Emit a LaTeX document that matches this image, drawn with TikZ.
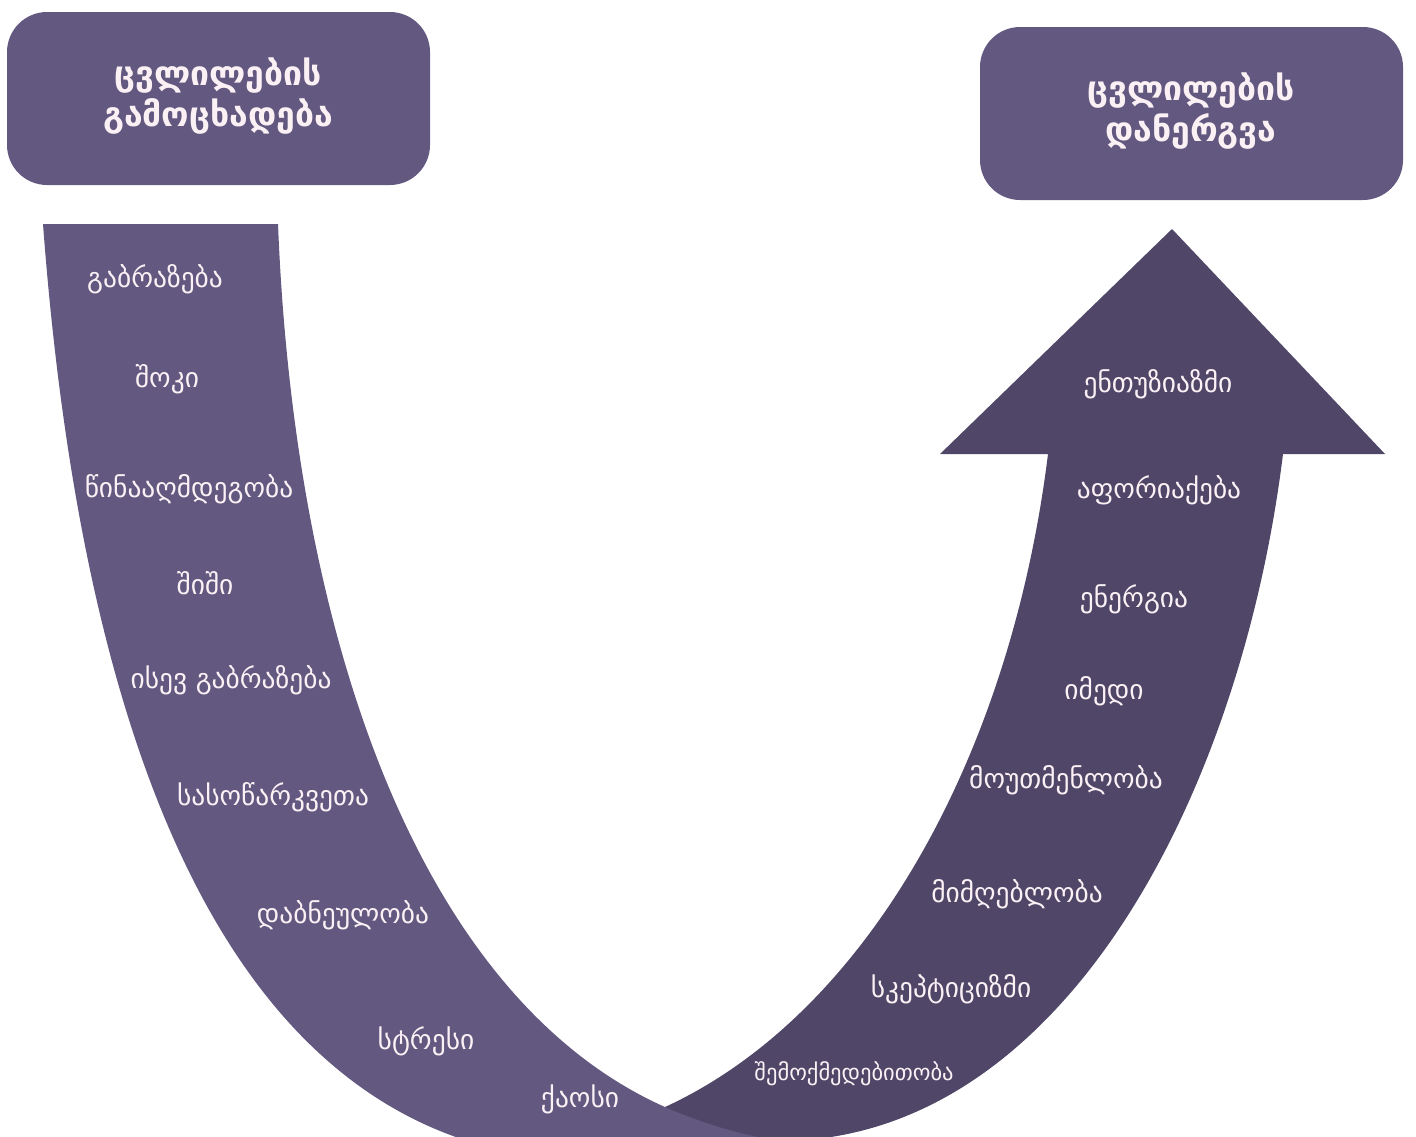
\documentclass[tikz,border=0pt]{standalone}
\usepackage{fontspec}
\newfontfamily\geofont{DejaVu Sans}
\usetikzlibrary{positioning}

\definecolor{bandlight}{HTML}{625880}
\definecolor{banddark}{HTML}{4F4668}
\definecolor{labeltext}{HTML}{FBF1F5}

\begin{document}
\begin{tikzpicture}[x=0.01cm, y=-0.01cm,
  stage/.style={text=labeltext, font=\geofont\fontsize{7.8}{9}\selectfont, inner sep=0pt},
  title/.style={text=labeltext, font=\geofont\bfseries\fontsize{9.6}{11.4}\selectfont, align=center, inner sep=0pt},
  titlebox/.style={fill=bandlight, rounded corners=11.4pt}]

\useasboundingbox (0,0) rectangle (1416,1136);
\clip (0,0) rectangle (1416,1136);

% Coordinates
\coordinate (LT) at (43,224);
\coordinate (LTi) at (278,224);
\coordinate (Meet) at (665,1107);
\coordinate (RIn) at (1048,454);
\coordinate (ROut) at (1283,454);
\coordinate (Tip) at (1172,229);

% Descending band
\fill[bandlight] (LT) -- (LTi) .. controls (295,650) and (425,1000) .. (Meet)
  -- (790,1110) -- (790,1160) -- (580,1160)
  .. controls (280,1150) and (90,850) .. (LT) -- cycle;

% Rising arrow
\fill[banddark] (Meet) .. controls (865,1015) and (1010,760) .. (RIn)
  -- (940,454) -- (Tip) -- (1385,454) -- (ROut)
  .. controls (1240,800) and (1060,1140) .. (780,1141)
  .. controls (740,1135) and (700,1122) .. (Meet) -- cycle;

% Title boxes
\fill[titlebox] (7,12) rectangle (430,185);
\fill[titlebox] (980,27) rectangle (1403,200);
\node[title] (announce) at (218,96) {ცვლილების\\გამოცხადება};
\node[title] (introduce) at (1191,111) {ცვლილების\\დანერგვა};

% Stages going down
\node[stage] (anger) at (155,279) {გაბრაზება};
\node[stage] (shock) at (167,379) {შოკი};
\node[stage] (resist) at (189,489) {წინააღმდეგობა};
\node[stage] (fear) at (205,583) {შიში};
\node[stage] (anger2) at (231,680) {ისევ გაბრაზება};
\node[stage] (despair) at (273,797) {სასოწარკვეთა};
\node[stage] (confusion) at (343,915) {დაბნეულობა};
\node[stage] (stress) at (426,1041) {სტრესი};
\node[stage] (chaos) at (580,1099) {ქაოსი};

% Stages going up
\node[stage] (enthus) at (1158,384) {ენთუზიაზმი};
\node[stage] (excite) at (1159,490) {აფორიაქება};
\node[stage] (energy) at (1134,599) {ენერგია};
\node[stage] (hope) at (1104,691) {იმედი};
\node[stage] (impat) at (1066,780) {მოუთმენლობა};
\node[stage] (accept) at (1017,894) {მიმღებლობა};
\node[stage] (scept) at (951,989) {სკეპტიციზმი};
\node[stage, font=\geofont\fontsize{6.4}{8}\selectfont] (creat) at (854,1074) {შემოქმედებითობა};

\end{tikzpicture}
\end{document}
